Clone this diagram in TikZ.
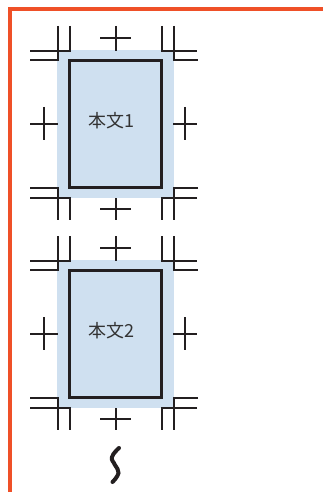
\documentclass[tikz,border=0pt]{standalone}
\usepackage{fontspec}
\newfontfamily\jpfont{Noto Sans CJK JP}
\definecolor{orangeline}{RGB}{239,80,40}
\definecolor{bleedblue}{RGB}{207,224,240}
\definecolor{markcol}{RGB}{35,31,32}
\definecolor{textgray}{RGB}{51,51,51}
\begin{document}
\begin{tikzpicture}[x=1pt,y=-1pt,
  border/.style={line width=4pt, draw=orangeline, line join=miter},
  bleedbox/.style={fill=bleedblue, draw=none, inner sep=0pt, outer sep=0pt, minimum width=117pt, minimum height=148pt},
  bodybox/.style={draw=markcol, line width=3pt, fill=none, inner sep=0pt, outer sep=0pt, minimum width=92pt, minimum height=127.2pt},
  bodytext/.style={font=\jpfont\fontsize{18}{18}\selectfont, text=textgray, inner sep=0pt, anchor=west},
  cropline/.style={line width=2pt, draw=markcol, line join=miter},
  squiggle/.style={line width=4pt, draw=markcol, line cap=round}]
\useasboundingbox (0,0) rectangle (323,492);
\draw[border] (323,9) -- (10,9) -- (10,492);
\foreach \dy/\n in {0/1,210/2} {
  \begin{scope}[shift={(0,\dy)}]
    \node[bleedbox] (bleed\n) at (115.5,124) {};
    \node[bodybox] (body\n) at (115.5,124.1) {};
    \node[bodytext] (label\n) at (88,120.5) {本文\n};
    % top-left
    \draw[cropline] (70,26) -- (70,51) -- (30,51);
    \draw[cropline] (58,26) -- (58,60) -- (30,60);
    % top-right
    \draw[cropline] (162,26) -- (162,51) -- (197,51);
    \draw[cropline] (174,26) -- (174,60) -- (198,60);
    % top centre
    \draw[cropline] (116,26) -- (116,51);
    \draw[cropline] (100,38) -- (131,38);
    % bottom-left
    \draw[cropline] (30,188) -- (58,188) -- (58,220);
    \draw[cropline] (30,198) -- (70,198) -- (70,220);
    % bottom-right
    \draw[cropline] (198,188) -- (174,188) -- (174,220);
    \draw[cropline] (197,198) -- (162,198) -- (162,220);
    % bottom centre
    \draw[cropline] (116,198) -- (116,220);
    \draw[cropline] (100,209) -- (131,209);
    % left centre
    \draw[cropline] (44,107) -- (44,140);
    \draw[cropline] (30,124) -- (58,124);
    % right centre
    \draw[cropline] (185,107) -- (185,140);
    \draw[cropline] (173,124) -- (197,124);
  \end{scope}
}
\draw[squiggle] plot[smooth, tension=0.8] coordinates {(119,448) (112,457) (115,465) (118.5,473) (112.5,482)};
\end{tikzpicture}
\end{document}
